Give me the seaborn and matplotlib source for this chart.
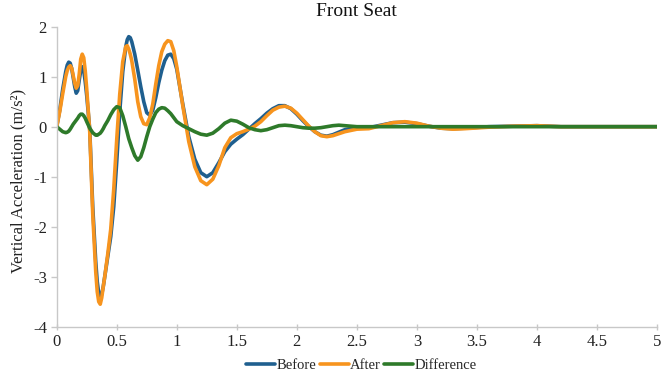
import matplotlib
matplotlib.use("Agg")
import matplotlib.pyplot as plt
from matplotlib.lines import Line2D
import seaborn as sns
import pandas as pd

time = [0, 0.025, 0.05, 0.075, 0.0875, 0.1, 0.1125, 0.125, 0.1375, 0.15,
        0.1625, 0.175, 0.1875, 0.2, 0.2125, 0.225, 0.2375, 0.25, 0.275, 0.3,
        0.325, 0.3375, 0.35, 0.3625, 0.375, 0.3875, 0.4, 0.425, 0.45, 0.475,
        0.5, 0.525, 0.55, 0.575, 0.5875, 0.6, 0.6125, 0.625, 0.65, 0.675,
        0.7, 0.725, 0.75, 0.775, 0.8, 0.825, 0.85, 0.875, 0.9, 0.925,
        0.95, 0.975, 1.0, 1.05, 1.1, 1.15, 1.2, 1.25, 1.3, 1.35,
        1.4, 1.45, 1.5, 1.55, 1.6, 1.65, 1.7, 1.75, 1.8, 1.85,
        1.9, 1.95, 2.0, 2.05, 2.1, 2.15, 2.2, 2.25, 2.3, 2.35,
        2.4, 2.5, 2.6, 2.7, 2.8, 2.9, 3.0, 3.1, 3.2, 3.3,
        3.4, 3.6, 3.8, 4.0, 4.2, 4.5, 5.0]

before = [0, 0.33, 0.75, 1.1, 1.23, 1.29, 1.27, 1.16, 0.98, 0.8,
          0.67, 0.72, 0.93, 1.12, 1.2, 1.12, 0.9, 0.62, -0.05, -1.6,
          -2.7, -3.1, -3.33, -3.4, -3.35, -3.2, -3.0, -2.6, -2.2, -1.6,
          -0.7, 0.3, 1.1, 1.6, 1.74, 1.8, 1.78, 1.7, 1.45, 1.13,
          0.8, 0.5, 0.28, 0.23, 0.33, 0.58, 0.88, 1.13, 1.32, 1.43,
          1.45, 1.36, 1.15, 0.45, -0.2, -0.65, -0.92, -1.0, -0.92, -0.72,
          -0.5, -0.35, -0.25, -0.16, -0.05, 0.06, 0.16, 0.27, 0.36, 0.42,
          0.42, 0.36, 0.25, 0.12, 0.0, -0.1, -0.17, -0.19, -0.16, -0.11,
          -0.06, -0.02, -0.02, 0.03, 0.08, 0.09, 0.06, 0.01, -0.03, -0.04,
          -0.03, 0.0, 0.01, 0.02, 0.0, 0.0, 0.0]

after = [0, 0.3, 0.66, 1.0, 1.12, 1.19, 1.22, 1.17, 1.02, 0.87,
         0.77, 0.82, 1.05, 1.35, 1.45, 1.38, 1.12, 0.75, -0.1, -1.75,
         -2.9, -3.3, -3.5, -3.55, -3.42, -3.2, -3.0, -2.55, -2.05, -1.25,
         -0.25, 0.65, 1.3, 1.6, 1.62, 1.55, 1.45, 1.32, 0.95, 0.5,
         0.2, 0.06, 0.04, 0.18, 0.45, 0.85, 1.22, 1.5, 1.65, 1.72,
         1.7, 1.52, 1.2, 0.42, -0.3, -0.8, -1.08, -1.16, -1.05, -0.78,
         -0.42, -0.22, -0.14, -0.1, -0.05, 0.01, 0.1, 0.22, 0.33, 0.39,
         0.41, 0.37, 0.27, 0.14, 0.01, -0.1, -0.18, -0.2, -0.18, -0.14,
         -0.1, -0.05, -0.04, 0.02, 0.08, 0.1, 0.07, 0.01, -0.03, -0.05,
         -0.04, -0.01, 0.01, 0.02, 0.0, 0.0, 0.0]

difference = [0, -0.05, -0.1, -0.12, -0.11, -0.09, -0.05, 0.0, 0.05, 0.09,
              0.13, 0.17, 0.22, 0.25, 0.25, 0.22, 0.17, 0.1, -0.03, -0.12,
              -0.17, -0.17, -0.15, -0.13, -0.09, -0.04, 0.02, 0.12, 0.24, 0.34,
              0.4, 0.38, 0.22, 0.0, -0.12, -0.24, -0.33, -0.42, -0.58, -0.67,
              -0.6, -0.42, -0.2, 0.0, 0.15, 0.28, 0.35, 0.38, 0.37, 0.32,
              0.26, 0.18, 0.1, 0.02, -0.04, -0.1, -0.15, -0.17, -0.13, -0.04,
              0.07, 0.13, 0.11, 0.05, -0.02, -0.06, -0.08, -0.06, -0.02, 0.02,
              0.03, 0.02, 0.0, -0.02, -0.03, -0.03, -0.02, 0.0, 0.02, 0.03,
              0.02, 0.0, 0.0, 0.0, 0.0, 0.0, 0.0, 0.0, 0.0, 0.0,
              0.0, 0.0, 0.0, 0.0, 0.0, 0.0, 0.0]

series_names = ["Before", "After", "Difference"]
colors = ["#1f5f8f", "#f7941e", "#2e7a2a"]
x_ticks = [0, 0.5, 1, 1.5, 2, 2.5, 3, 3.5, 4, 4.5, 5]
x_tick_labels = ["0", "0.5", "1", "1.5", "2", "2.5", "3", "3.5", "4", "4.5", "5"]
y_ticks = [-4, -3, -2, -1, 0, 1, 2]
y_tick_labels = ["-4", "-3", "-2", "-1", "0", "1", "2"]

frames = []
for name, vals in zip(series_names, [before, after, difference]):
    frames.append(pd.DataFrame({"time": time, "value": vals, "series": name}))
df = pd.concat(frames, ignore_index=True)

sns.set_theme(style="white")
plt.rcParams["font.family"] = ["Liberation Serif", "DejaVu Serif"]
plt.rcParams["axes.unicode_minus"] = False

fig = plt.figure(figsize=(6.72, 3.81), dpi=100)
ax = fig.add_axes([0.0844, 0.1425, 0.8933, 0.7875])

sns.lineplot(data=df, x="time", y="value", hue="series", hue_order=series_names,
             palette=colors, linewidth=2.6, estimator=None, sort=False,
             legend=False, ax=ax)

ax.set_xlim(0, 5)
ax.set_ylim(-4, 2)
ax.set_xticks(x_ticks)
ax.set_xticklabels(x_tick_labels)
ax.set_yticks(y_ticks)
ax.set_yticklabels(y_tick_labels)
ax.set_xlabel("")
ax.set_ylabel("")
for s in ["top", "right"]:
    ax.spines[s].set_visible(False)
for s in ["left", "bottom"]:
    ax.spines[s].set_color("#c8c8c8")
    ax.spines[s].set_linewidth(1.0)
ax.tick_params(axis="x", direction="inout", length=5, width=1, color="#c8c8c8",
               labelsize=12, pad=3, labelcolor="#222222", bottom=True)
ax.tick_params(axis="y", direction="out", length=4, width=1, color="#c8c8c8",
               labelsize=12, pad=3, labelcolor="#222222", left=True)

ax.set_title("Front Seat", fontsize=14, pad=8, color="#111111")
fig.text(0.027, 0.525, "Vertical Acceleration (m/s\u00b2)", rotation=90,
         ha="center", va="center", fontsize=12, color="#222222")

handles = [Line2D([0], [0], color=c, lw=2.6) for c in colors]
fig.legend(handles, series_names, loc="lower center", bbox_to_anchor=(0.538, -0.012),
           ncol=3, frameon=False, handlelength=2.0, handletextpad=0.1,
           columnspacing=0.2, fontsize=10.5)

fig.savefig("out.png", dpi=100)
